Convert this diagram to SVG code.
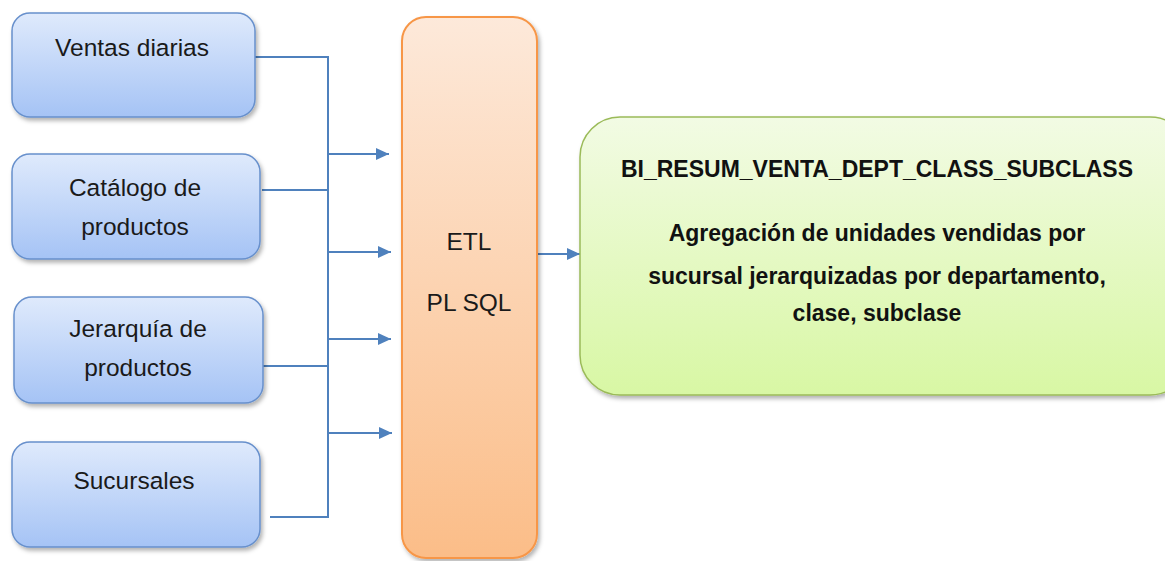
<svg xmlns="http://www.w3.org/2000/svg" width="1165" height="561" viewBox="0 0 1165 561">
  <defs>
    <linearGradient id="gBlue" x1="0" y1="0" x2="0" y2="1">
      <stop offset="0" stop-color="#dfeafc"/>
      <stop offset="1" stop-color="#a5c3f5"/>
    </linearGradient>
    <linearGradient id="gOrange" x1="0" y1="0" x2="0" y2="1">
      <stop offset="0" stop-color="#fde9da"/>
      <stop offset="1" stop-color="#fbbd88"/>
    </linearGradient>
    <linearGradient id="gGreen" x1="0" y1="0" x2="0" y2="1">
      <stop offset="0" stop-color="#f2fbe4"/>
      <stop offset="1" stop-color="#d8f7a4"/>
    </linearGradient>
    <filter id="shadow" x="-10%" y="-10%" width="130%" height="130%">
      <feDropShadow dx="2" dy="3" stdDeviation="2" flood-color="#000" flood-opacity="0.3"/>
    </filter>
    <marker id="arrow" viewBox="0 0 13 12" refX="13" refY="6" markerWidth="13" markerHeight="12" orient="auto" markerUnits="userSpaceOnUse">
      <path d="M0,0 L13,6 L0,12 Z" fill="#4f81bd"/>
    </marker>
  </defs>
  <style>
    .src { fill: url(#gBlue); stroke: #6790cc; stroke-width: 1.5; filter: url(#shadow); }
    .etl { fill: url(#gOrange); stroke: #f79646; stroke-width: 2; filter: url(#shadow); }
    .out { fill: url(#gGreen); stroke: #9bbb59; stroke-width: 1.5; filter: url(#shadow); }
    .lbl { font-family: "Liberation Sans", Arial, sans-serif; font-size: 24.5px; fill: #1a1a1a; text-anchor: middle; }
    .bold { font-family: "Liberation Sans", Arial, sans-serif; font-size: 23px; font-weight: bold; fill: #111; text-anchor: middle; }
    .wire { fill: none; stroke: #4f81bd; stroke-width: 2; }
  </style>

  <rect width="1165" height="561" fill="#ffffff"/>

  <!-- connectors -->
  <g id="connectors">
    <path class="wire" d="M255,57 H328 V517 H270"/>
    <path class="wire" d="M262,190 H328"/>
    <path class="wire" d="M263,366 H328"/>
    <path class="wire" d="M328,154 H389" marker-end="url(#arrow)"/>
    <path class="wire" d="M328,252 H391" marker-end="url(#arrow)"/>
    <path class="wire" d="M328,339 H391" marker-end="url(#arrow)"/>
    <path class="wire" d="M328,433 H392" marker-end="url(#arrow)"/>
    <path class="wire" d="M537,254 H580" marker-end="url(#arrow)"/>
  </g>

  <!-- source nodes -->
  <g id="ventas">
    <rect class="src" x="12" y="13" width="243" height="104" rx="18"/>
    <text class="lbl" x="132" y="56">Ventas diarias</text>
  </g>
  <g id="catalogo">
    <rect class="src" x="12" y="154" width="248" height="105" rx="18"/>
    <text class="lbl" x="135" y="196">Catálogo de</text>
    <text class="lbl" x="135" y="235">productos</text>
  </g>
  <g id="jerarquia">
    <rect class="src" x="14" y="297" width="249" height="106" rx="18"/>
    <text class="lbl" x="138" y="337">Jerarquía de</text>
    <text class="lbl" x="138" y="376">productos</text>
  </g>
  <g id="sucursales">
    <rect class="src" x="12" y="442" width="248" height="105" rx="18"/>
    <text class="lbl" x="134" y="489">Sucursales</text>
  </g>

  <!-- ETL process -->
  <g id="etl">
    <rect class="etl" x="402" y="17" width="135" height="541" rx="24"/>
    <text class="lbl" x="469" y="250">ETL</text>
    <text class="lbl" x="469" y="311">PL SQL</text>
  </g>

  <!-- summary table -->
  <g id="resumen">
    <rect class="out" x="580" y="117" width="610" height="278" rx="40"/>
    <text class="bold" x="877" y="177">BI_RESUM_VENTA_DEPT_CLASS_SUBCLASS</text>
    <text class="bold" x="877" y="241">Agregación de unidades vendidas por</text>
    <text class="bold" x="877" y="284">sucursal jerarquizadas por departamento,</text>
    <text class="bold" x="877" y="321">clase, subclase</text>
  </g>
</svg>
